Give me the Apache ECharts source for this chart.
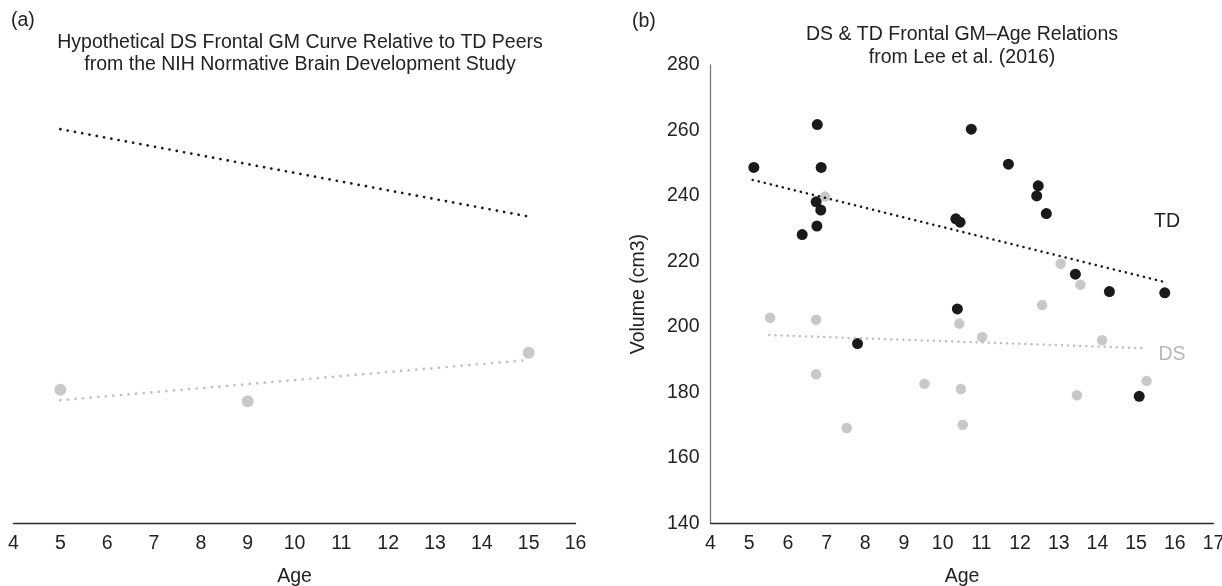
<!DOCTYPE html>
<html>
<head>
<meta charset="utf-8">
<script src="https://cdn.jsdelivr.net/npm/echarts@6/dist/echarts.min.js"></script>
<style>
html,body{margin:0;padding:0;background:#fff;}
#chart{width:1222px;height:586px;}
</style>
</head>
<body>
<div id="chart"></div>
<script>
// ---- Panel (a): hypothetical curves ----
const hypoDsAge = [5, 9, 15];
const hypoDsVol = [180.8, 177.3, 192.1];
const hypoTdLineAge = [5, 15];
const hypoTdLineVol = [260.4, 233.7];
const hypoDsLineAge = [5, 15];
const hypoDsLineVol = [177.6, 189.9];

// ---- Panel (b): Lee et al. (2016) ----
const tdAge = [5.12, 6.76, 6.86, 6.73, 6.85, 6.75, 6.37, 10.34, 10.45, 10.74, 11.70, 12.47, 12.43, 12.68, 13.43, 14.31, 15.74, 7.80, 10.38, 15.08];
const tdVol = [248.7, 261.8, 248.7, 238.2, 235.7, 230.8, 228.2, 233.0, 232.0, 260.4, 249.7, 243.1, 240.0, 234.6, 216.1, 210.8, 210.4, 194.9, 205.5, 178.8];
const dsAge = [6.96, 13.05, 13.56, 12.57, 14.12, 5.54, 6.73, 6.73, 7.52, 9.53, 10.47, 10.52, 10.43, 11.02, 15.27, 13.47];
const dsVol = [239.8, 219.3, 212.9, 206.7, 195.9, 202.8, 202.2, 185.5, 169.1, 182.6, 181.0, 170.1, 201.0, 196.9, 183.5, 179.1];
const tdTrendAge = [5.09, 15.67];
const tdTrendVol = [244.9, 213.9];
const dsTrendAge = [5.52, 15.20];
const dsTrendVol = [197.5, 193.5];

const leftTicks = {min: 4, max: 16, interval: 1};
const rightTicks = {min: 4, max: 17, interval: 1};
const yTicks = {min: 140, max: 280, interval: 20};

const zip = (a, b) => a.map((v, i) => [v, b[i]]);

const FONT = '"Liberation Sans", Arial, Helvetica, sans-serif';
const FS = 19.5;
const TXT = '#222222';
const BLACK = '#1a1a1a';
const GRAY = '#c8c8c8';

const chart = echarts.init(document.getElementById('chart'), null, {renderer: 'canvas'});

const xAxisCommon = (grid, t) => ({
  gridIndex: grid, type: 'value', min: t.min, max: t.max, interval: t.interval,
  name: 'Age', nameLocation: 'middle', nameGap: 43,
  nameTextStyle: {fontFamily: FONT, fontSize: FS, color: TXT},
  axisLine: {show: true, lineStyle: {color: '#2a2a2a', width: 1.3}},
  axisTick: {show: false},
  splitLine: {show: false},
  axisLabel: {fontFamily: FONT, fontSize: FS, color: TXT, margin: 10}
});

const option = {
  animation: false,
  backgroundColor: '#fff',
  title: [
    {text: '(a)', left: 11, top: 11, textStyle: {fontFamily: FONT, fontSize: FS, fontWeight: 'normal', color: TXT}, padding: 0},
    {text: '(b)', left: 632, top: 12, textStyle: {fontFamily: FONT, fontSize: FS, fontWeight: 'normal', color: TXT}, padding: 0},
    {text: 'Hypothetical DS Frontal GM Curve Relative to TD Peers\nfrom the NIH Normative Brain Development Study',
      left: 300, top: 32, textAlign: 'center', padding: 0,
      textStyle: {fontFamily: FONT, fontSize: FS, fontWeight: 'normal', color: TXT, lineHeight: 22}},
    {text: 'DS & TD Frontal GM\u2013Age Relations\nfrom Lee et al. (2016)',
      left: 962, top: 23, textAlign: 'center', padding: 0,
      textStyle: {fontFamily: FONT, fontSize: FS, fontWeight: 'normal', color: TXT, lineHeight: 23}}
  ],
  grid: [
    {left: 13.5, right: 646.5, top: 65, bottom: 62.7, containLabel: false, outerBoundsMode: 'none'},
    {left: 710.5, right: 8.5, top: 65, bottom: 62.7, containLabel: false, outerBoundsMode: 'none'}
  ],
  xAxis: [xAxisCommon(0, leftTicks), xAxisCommon(1, rightTicks)],
  yAxis: [
    {gridIndex: 0, type: 'value', min: yTicks.min, max: yTicks.max, interval: yTicks.interval, show: false},
    {gridIndex: 1, type: 'value', min: yTicks.min, max: yTicks.max, interval: yTicks.interval,
      name: 'Volume (cm3)', nameLocation: 'middle', nameGap: 62,
      nameTextStyle: {fontFamily: FONT, fontSize: FS, color: TXT},
      axisLine: {show: true, lineStyle: {color: '#7a7a7a', width: 1.3}},
      axisTick: {show: false}, splitLine: {show: false},
      axisLabel: {fontFamily: FONT, fontSize: FS, color: TXT, margin: 11}}
  ],
  series: [
    // Panel (a)
    {type: 'line', xAxisIndex: 0, yAxisIndex: 0, data: zip(hypoTdLineAge, hypoTdLineVol), showSymbol: false,
      lineStyle: {color: BLACK, width: 2.7, type: [0.1, 7.3], cap: 'round', opacity: 1}},
    {type: 'line', xAxisIndex: 0, yAxisIndex: 0, data: zip(hypoDsLineAge, hypoDsLineVol), showSymbol: false,
      lineStyle: {color: '#c2c2c2', width: 2.7, type: [0.1, 7.5], cap: 'round', opacity: 1}},
    {type: 'scatter', xAxisIndex: 0, yAxisIndex: 0, data: zip(hypoDsAge, hypoDsVol), symbolSize: 12,
      itemStyle: {color: GRAY, opacity: 1}},
    // Panel (b)
    {type: 'scatter', xAxisIndex: 1, yAxisIndex: 1, data: zip(dsAge, dsVol), symbolSize: 10.5,
      itemStyle: {color: GRAY, opacity: 1}},
    {type: 'scatter', xAxisIndex: 1, yAxisIndex: 1, data: zip(tdAge, tdVol), symbolSize: 11,
      itemStyle: {color: BLACK, opacity: 1}},
    {type: 'line', xAxisIndex: 1, yAxisIndex: 1, data: zip(tdTrendAge, tdTrendVol), showSymbol: false,
      lineStyle: {color: BLACK, width: 2.5, type: [0.1, 6.1], cap: 'round', opacity: 1}},
    {type: 'line', xAxisIndex: 1, yAxisIndex: 1, data: zip(dsTrendAge, dsTrendVol), showSymbol: false,
      lineStyle: {color: '#bdbdbd', width: 2.4, type: [0.1, 6.0], cap: 'round', opacity: 1}}
  ],
  graphic: [
    {type: 'text', x: 1167, y: 222, style: {text: 'TD', fill: TXT, font: FS + 'px ' + FONT, align: 'center', verticalAlign: 'middle'}},
    {type: 'text', x: 1172, y: 355, style: {text: 'DS', fill: '#b8b8b8', font: FS + 'px ' + FONT, align: 'center', verticalAlign: 'middle'}}
  ]
};
chart.setOption(option);
</script>
</body>
</html>
